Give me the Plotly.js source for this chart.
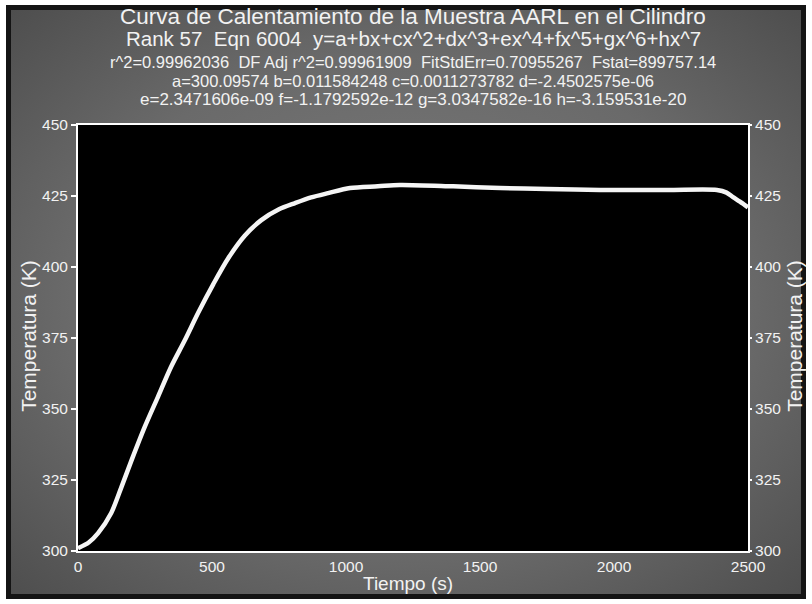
<!DOCTYPE html>
<html><head><meta charset="utf-8">
<script src="https://cdn.plot.ly/plotly-3.0.1.min.js"></script>
<style>
html,body{margin:0;padding:0;background:#ffffff;}
#frame{position:absolute;left:6px;top:5px;width:800px;height:594px;box-sizing:border-box;border:5px solid #141414;
 background: radial-gradient(ellipse at center, #7c7c7c 0%, #6a6a6a 60%, #4e4e4e 100%);}
#chart{position:absolute;left:0;top:0;width:812px;height:604px;}
</style></head>
<body>
<div id="frame"></div>
<div id="chart"></div>
<script>
// Data
const tiempo = [0, 40, 75, 124, 162, 200, 249, 298, 347, 399, 448, 505, 560, 622, 684, 750, 810, 870, 933, 1015, 1119, 1201, 1400, 1575, 1750, 1948, 2200, 2384, 2420, 2444, 2470, 2500];
const temperatura = [301, 303, 306.3, 313.4, 322.5, 332, 343.7, 354.2, 364.8, 374.3, 383.8, 394, 403, 411, 416.5, 420.3, 422.5, 424.5, 426, 427.8, 428.4, 428.9, 428.4, 427.8, 427.5, 427.1, 427.1, 427.1, 426.2, 424.6, 423, 421];
const xTicks = [0, 500, 1000, 1500, 2000, 2500];
const yTicks = [300, 325, 350, 375, 400, 425, 450];
const titleLines = [
  "Curva de Calentamiento de la Muestra AARL en el Cilindro",
  "Rank 57  Eqn 6004  y=a+bx+cx^2+dx^3+ex^4+fx^5+gx^6+hx^7",
  "r^2=0.99962036  DF Adj r^2=0.99961909  FitStdErr=0.70955267  Fstat=899757.14",
  "a=300.09574 b=0.011584248 c=0.0011273782 d=-2.4502575e-06",
  "e=2.3471606e-09 f=-1.1792592e-12 g=3.0347582e-16 h=-3.159531e-20"
];
const xTitle = "Tiempo (s)";
const yTitle = "Temperatura (K)";

const FONT = "Liberation Sans, Arial, sans-serif";
const WHITE = "#f2f2f2";

const traces = [
  {x: tiempo, y: temperatura, type: "scatter", mode: "lines",
   line: {color: "#f5f5f5", width: 4.5, shape: "spline", smoothing: 0.8}, hoverinfo: "skip", yaxis: "y"},
  {x: tiempo, y: temperatura, type: "scatter", mode: "lines",
   line: {color: "rgba(0,0,0,0)", width: 0}, hoverinfo: "skip", yaxis: "y2"}
];

const titleY = [17, 39, 62, 81, 99];
const titleSize = [22.5, 20.5, 16.5, 16.5, 17];
const annotations = titleLines.map((t, i) => ({
  text: t, xref: "paper", yref: "paper", x: 0.5,
  y: 1 + (125 - titleY[i]) / 426, xanchor: "center", yanchor: "middle",
  showarrow: false, font: {family: FONT, size: titleSize[i], color: WHITE}
}));
annotations.push({text: xTitle, xref: "paper", yref: "paper", x: 0.492, y: -(583 - 551) / 426,
  xanchor: "center", yanchor: "middle", showarrow: false, font: {family: FONT, size: 19, color: WHITE}});
annotations.push({text: yTitle, xref: "paper", yref: "paper", x: -(78 - 29) / 670, y: 0.505,
  xanchor: "center", yanchor: "middle", textangle: -90, showarrow: false, font: {family: FONT, size: 21, color: WHITE}});
annotations.push({text: yTitle, xref: "paper", yref: "paper", x: 1 + (795 - 748) / 670, y: 0.505,
  xanchor: "center", yanchor: "middle", textangle: -90, showarrow: false, font: {family: FONT, size: 21, color: WHITE}});

const axisCommon = {
  showgrid: false, zeroline: false, showline: true, linecolor: "#ffffff", linewidth: 2,
  ticks: "outside", ticklen: 5, tickcolor: "#ffffff", tickwidth: 1.5,
  tickfont: {family: FONT, size: 15.5, color: WHITE}, fixedrange: true
};

const layout = {
  width: 812, height: 604,
  margin: {l: 78, r: 64, t: 125, b: 53},
  paper_bgcolor: "rgba(0,0,0,0)", plot_bgcolor: "#000000",
  showlegend: false,
  xaxis: Object.assign({}, axisCommon, {range: [0, 2500], tickvals: xTicks, mirror: true, ticks: "", ticklabelstandoff: 0}),
  yaxis: Object.assign({}, axisCommon, {range: [300, 450], tickvals: yTicks, side: "left"}),
  yaxis2: Object.assign({}, axisCommon, {range: [300, 450], tickvals: yTicks, side: "right", overlaying: "y", ticks: "outside", ticklen: 2}),
  annotations: annotations
};

Plotly.newPlot("chart", traces, layout, {displayModeBar: false, staticPlot: true});
</script>
</body></html>
